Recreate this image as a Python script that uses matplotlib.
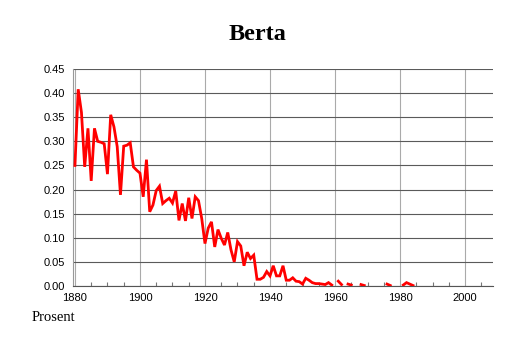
import numpy as np
import matplotlib
matplotlib.use("Agg")
import matplotlib.pyplot as plt
from matplotlib.ticker import MultipleLocator

title = "Berta"
ylabel_text = "Prosent"
years = list(range(1880, 1985))
nan = float("nan")
values = [
    0.250, 0.408, 0.360, 0.247, 0.327, 0.218, 0.327, 0.300, 0.298, 0.295,  # 1880s
    0.232, 0.355, 0.330, 0.289, 0.189, 0.290, 0.292, 0.297, 0.247, 0.240,  # 1890s
    0.234, 0.185, 0.262, 0.154, 0.168, 0.198, 0.207, 0.171, 0.177, 0.182,  # 1900s
    0.172, 0.197, 0.136, 0.171, 0.135, 0.183, 0.140, 0.185, 0.177, 0.140,  # 1910s
    0.088, 0.120, 0.133, 0.081, 0.117, 0.099, 0.085, 0.111, 0.075, 0.050,  # 1920s
    0.092, 0.083, 0.042, 0.070, 0.057, 0.064, 0.014, 0.014, 0.018, 0.030,  # 1930s
    0.021, 0.042, 0.021, 0.021, 0.042, 0.012, 0.012, 0.017, 0.010, 0.009,  # 1940s
    0.004, 0.016, 0.012, 0.007, 0.005, 0.005, 0.004, 0.003, 0.007, 0.002,  # 1950s
    nan, 0.010, 0.003, nan, 0.004, 0.002, nan, nan, 0.003, 0.001,          # 1960s
    nan, nan, nan, nan, nan, nan, 0.004, 0.001, nan, nan,                  # 1970s
    nan, 0.002, 0.007, 0.004, 0.001,                                       # 1980s
]
yticks = [0.00, 0.05, 0.10, 0.15, 0.20, 0.25, 0.30, 0.35, 0.40, 0.45]
xticks = [1880, 1900, 1920, 1940, 1960, 1980, 2000]

fig = plt.figure(figsize=(5.14, 3.43), dpi=100)
ax = fig.add_axes([73/514, 1-286/343, (493-73)/514, (286-69)/343])

ax.plot(years, values, color="#ff0000", lw=2.0, solid_joinstyle="miter", zorder=3)

ax.set_xlim(1879.4, 2008.6)
ax.set_ylim(0, 0.45)
ax.set_yticks(yticks)
ax.set_yticklabels([f"{v:.2f}" for v in yticks])
ax.set_xticks(xticks)
ax.set_xticklabels([str(v) for v in xticks])
ax.xaxis.set_minor_locator(MultipleLocator(5))

ax.grid(axis="y", color="#5a5a5a", lw=0.8, zorder=1)
ax.grid(axis="x", which="major", color="#aaaaaa", lw=0.8, zorder=1)

for s in ["top", "right"]:
    ax.spines[s].set_visible(False)
ax.spines["left"].set_color("#999999")
ax.spines["left"].set_linewidth(0.8)
ax.spines["bottom"].set_color("#555555")
ax.spines["bottom"].set_linewidth(0.8)

ax.tick_params(axis="y", length=0, pad=6, labelsize=8, labelcolor="#000000")
ax.tick_params(axis="x", which="major", length=0, pad=5, labelsize=8)
ax.tick_params(axis="x", which="minor", length=3, direction="in", color="#777777", width=0.8)
for lab in ax.get_xticklabels() + ax.get_yticklabels():
    lab.set_family(["Liberation Sans", "DejaVu Sans"])

fig.text(0.5, 1-34/343, title, ha="center", va="center", fontsize=17.5,
         fontweight="bold", family=["Liberation Serif", "DejaVu Serif"])
fig.text(32/514, 1-321/343, ylabel_text, ha="left", va="baseline", fontsize=10.5,
         family=["Liberation Serif", "DejaVu Serif"])

fig.savefig("out.png", dpi=100)
